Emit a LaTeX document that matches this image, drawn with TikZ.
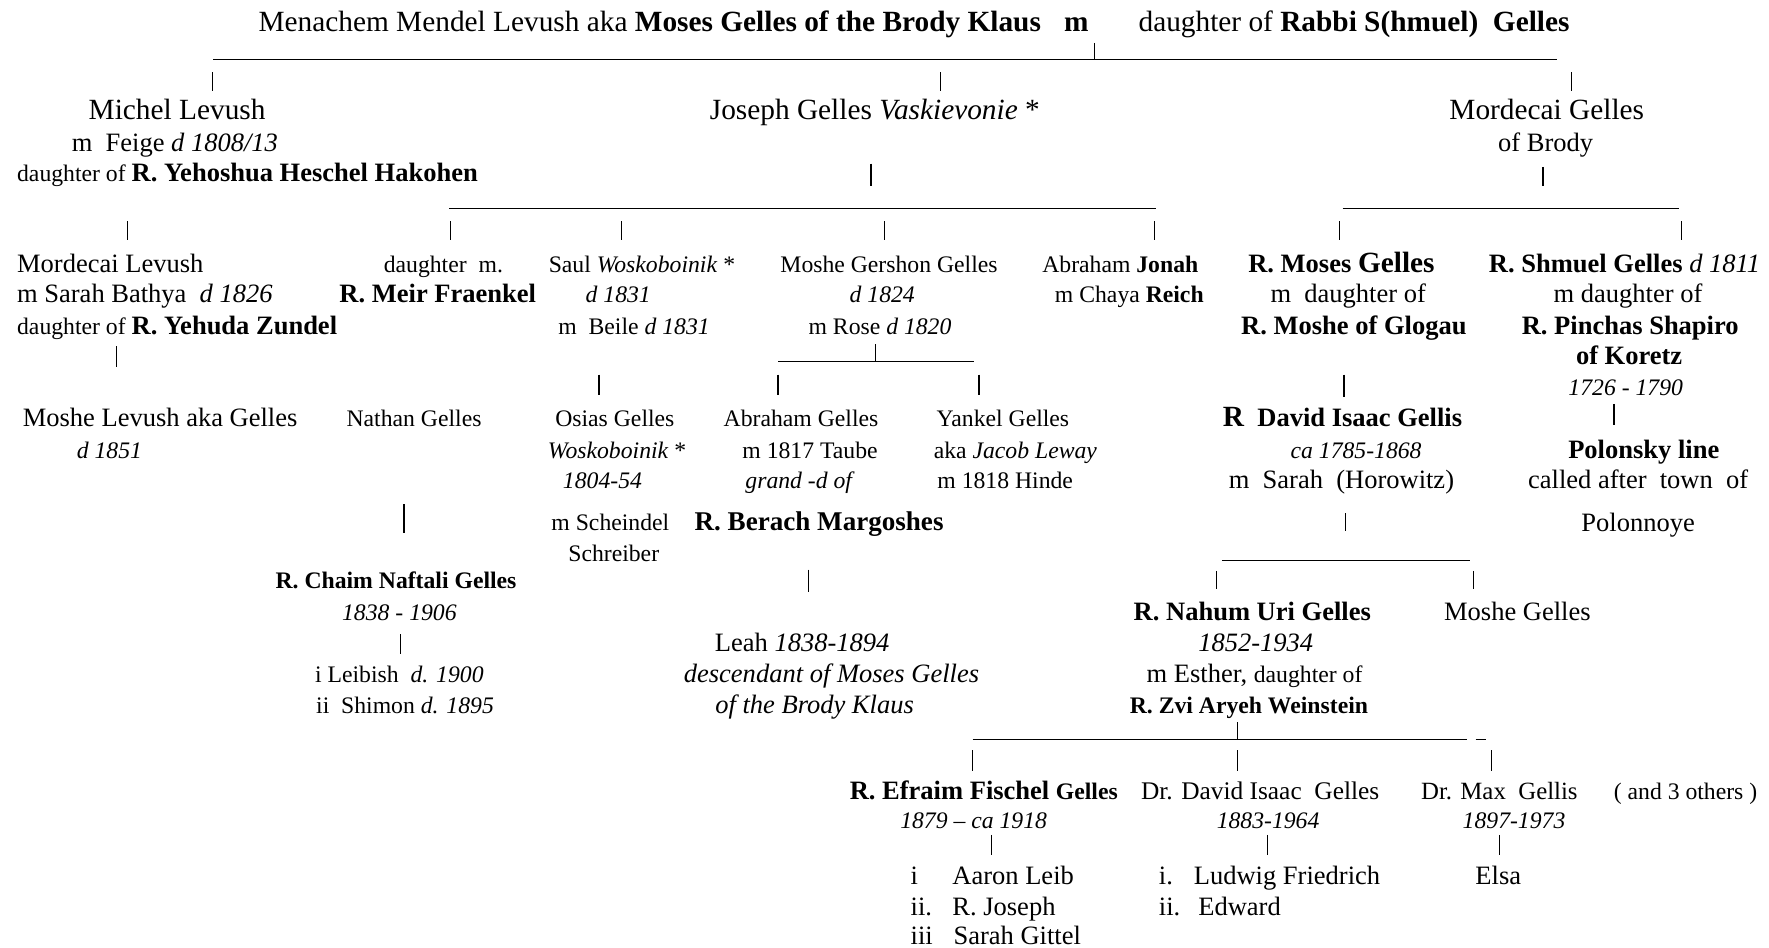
\documentclass[tikz,border=0pt]{standalone}
\usepackage{fontspec}
\setmainfont{Liberation Serif}
\newcommand\szL{\fontsize{26}{28}\selectfont}
\newcommand\szM{\fontsize{23.5}{26}\selectfont}
\newcommand\szS{\fontsize{21}{24}\selectfont}

\begin{document}
\begin{tikzpicture}[
            x=1pt, y=-1pt,
            every node/.style={inner sep=0pt, anchor=mid},
            tick/.style={line width=0.8pt},
            btick/.style={line width=1.8pt},
            bar/.style={line width=0.8pt},
            lg/.style={font=\szL},
            md/.style={font=\szM},
            sm/.style={font=\szS}
          ]
          \path[fill=white] (0,0) rectangle (1568,840);
          \useasboundingbox (0,0) rectangle (1568,840);

          % Underscore bars
          \foreach \n/\xa/\xb/\y in {b1/189/1380/53, b2/398/1025/185, b3/1190/1488/185,
              b4/690/863/320, b5/1083/1303/497, b6/862/1300/655, b7/1308/1317/655} {
            \coordinate (\n-l) at (\xa,\y);
            \coordinate (\n-r) at (\xb,\y);
            \draw[bar] (\n-l) -- (\n-r);
          }
          % Thin ticks
          \foreach \n/\x/\ya/\yb in {p1/970/38/53, t1/188/64/81, t2/834/64/81, t3/1393/64/81,
              t4/113/196/213, t5/399/196/213, t6/551/196/213, t7/784/196/213, t8/1023/196/213,
              t9/1187/196/213, t10/1490/196/213, t11/103/307/325, p2/776/305/320,
              t12/1193/455/471, t13/717/505/525, t14/1078/506/522, t15/1306/506/522,
              t16/355/562/580, p3/1097/640/655, t17/862/665/683, t18/1097/665/683,
              t19/1322/665/683, t20/879/740/758, t21/1123/740/758, t22/1329/740/758} {
            \coordinate (\n-t) at (\x,\ya);
            \coordinate (\n-b) at (\x,\yb);
            \draw[tick] (\n-t) -- (\n-b);
          }
          % Bold ticks
          \foreach \n/\x/\ya/\yb in {u1/772/145/165, u2/1368/148/165, u3/531/332/350,
              u4/690/332/350, u5/868/332/350, u6/1191/332/352, u7/1431/358/377, u8/358/447/472} {
            \coordinate (\n-t) at (\x,\ya);
            \coordinate (\n-b) at (\x,\yb);
            \draw[btick] (\n-t) -- (\n-b);
          }

          \begin{scope}[yshift=-6pt]
          % Top couple
          \node[lg, anchor=mid west] (menachem) at (229,20) {Menachem Mendel Levush aka \textbf{Moses Gelles of the Brody Klaus}};
          \node[font=\szL\bfseries] (marr) at (954,20) {m};
          \node[lg, anchor=mid west] (rabbi) at (1009,20) {daughter of \textbf{Rabbi S(hmuel)\ \ Gelles}};

          % Children
          \node[lg] (michel) at (157,98) {Michel Levush};
          \node[md] (feige) at (155,126) {m\ \ Feige \textit{d 1808/13}};
          \node[sm, anchor=mid west] (heschel) at (15,153) {daughter of \szM\bfseries R. Yehoshua Heschel Hakohen};
          \node[lg, anchor=mid west] (joseph) at (629,98) {Joseph Gelles \textit{Vaskievonie} *};
          \node[lg] (mordecaiG) at (1371,98) {Mordecai Gelles};
          \node[md] (brody) at (1370,126) {of Brody};

          % Grandchildren
          \node[md, anchor=mid west] (mordecaiL) at (15,233) {Mordecai Levush};
          \node[md, anchor=mid west] (sarah) at (15,260) {m Sarah Bathya\ \ \textit{d 1826}};
          \node[sm, anchor=mid west] (zundel) at (15,288) {daughter of \szM\bfseries R. Yehuda Zundel};
          \node[sm] (daum) at (393,233) {daughter\ \ m.};
          \node[font=\szM\bfseries] (fraenkel) at (388,260) {R. Meir Fraenkel};
          \node[sm] (saul) at (569,233) {Saul \textit{Woskoboinik} *};
          \node[font=\szS\itshape] (d1831) at (548,260) {d 1831};
          \node[sm] (beile) at (562,288) {m\ \ Beile \textit{d 1831}};
          \node[sm] (gershon) at (788,233) {Moshe Gershon Gelles};
          \node[font=\szS\itshape] (d1824) at (782,260) {d 1824};
          \node[sm] (rose) at (780,288) {m Rose \textit{d 1820}};
          \node[sm] (jonah) at (993,233) {Abraham \textbf{Jonah}};
          \node[sm] (reich) at (1001,260) {m Chaya \textbf{Reich}};
          \node[font=\szM\bfseries] (rmoses) at (1189,233) {R. Moses \szL Gelles};
          \node[md] (mdau1) at (1195,260) {m\ \ daughter of};
          \node[font=\szM\bfseries] (glogau) at (1200,288) {R. Moshe of Glogau};
          \node[md] (shmuel) at (1440,233) {\textbf{R. Shmuel Gelles} \textit{d 1811}};
          \node[md] (mdau2) at (1443,260) {m daughter of};
          \node[font=\szM\bfseries] (pinchas) at (1445,288) {R. Pinchas Shapiro};
          \node[font=\szM\bfseries] (koretz) at (1444,315) {of Koretz};
          \node[font=\szS\itshape] (y1726) at (1441,342) {1726 - 1790};

          % Great-grandchildren
          \node[md, anchor=mid west] (moshelev) at (20,370) {Moshe Levush aka Gelles};
          \node[font=\szS\itshape] (d1851) at (97,398) {d 1851};
          \node[sm] (nathan) at (367,370) {Nathan Gelles};
          \node[sm] (osias) at (545,370) {Osias Gelles};
          \node[sm] (wosko) at (547,398) {\textit{Woskoboinik} *};
          \node[font=\szS\itshape] (y1804) at (534,425) {1804-54};
          \node[sm] (scheindel) at (541,462) {m Scheindel};
          \node[sm] (schreiber) at (544,489) {Schreiber};
          \node[sm] (abraham) at (710,370) {Abraham Gelles};
          \node[sm] (taube) at (718,398) {m 1817 Taube};
          \node[font=\szS\itshape] (grand) at (708,425) {grand -d of};
          \node[font=\fontsize{24}{27}\selectfont\bfseries] (berach) at (726,462) {R. Berach Margoshes};
          \node[sm] (yankel) at (889,370) {Yankel Gelles};
          \node[sm] (leway) at (900,398) {aka \textit{Jacob Leway}};
          \node[sm] (hinde) at (891,425) {m 1818 Hinde};
          \node[font=\szM\bfseries] (david) at (1190,370) {\szL R\szM\ \ David Isaac Gellis};
          \node[font=\szS\itshape] (ca1785) at (1202,398) {ca 1785-1868};
          \node[md] (horowitz) at (1189,425) {m\ \ Sarah\ \ (Horowitz)};
          \node[font=\szM\bfseries] (polonsky) at (1457,398) {Polonsky line};
          \node[md] (called) at (1452,425) {called after\ \ town\ \ of};
          \node[md] (polonnoye) at (1452,463) {Polonnoye};

          % Next generation
          \node[font=\szS\bfseries] (chaim) at (351,513) {R. Chaim Naftali Gelles};
          \node[font=\szS\itshape] (y1838) at (354,542) {1838 - 1906};
          \node[sm] (leibish) at (354,597) {i Leibish\ \ \textit{d. 1900}};
          \node[sm] (shimon) at (359,624) {ii\ \ Shimon \textit{d. 1895}};
          \node[md] (leah) at (711,569) {Leah \textit{1838-1894}};
          \node[font=\szM\itshape] (descendant) at (737,597) {descendant of Moses Gelles};
          \node[font=\szM\itshape] (klaus) at (722,624) {of the Brody Klaus};
          \node[font=\szM\bfseries] (nahum) at (1110,542) {R. Nahum Uri Gelles};
          \node[font=\szM\itshape] (y1852) at (1113,569) {1852-1934};
          \node[md] (esther) at (1112,597) {m Esther, \szS daughter of};
          \node[font=\szS\bfseries] (zvi) at (1107,624) {R. Zvi Aryeh Weinstein};
          \node[md] (moshegelles) at (1345,542) {Moshe Gelles};

          % Youngest
          \node[font=\szM\bfseries] (efraim) at (872,700) {R. Efraim Fischel \szS Gelles};
          \node[font=\szS\itshape] (y1879) at (863,726) {1879 -- ca 1918};
          \node[font=\fontsize{22.5}{25}\selectfont] (drdavid) at (1117,700) {Dr. David Isaac\ \ Gelles};
          \node[font=\szS\itshape] (y1883) at (1124,726) {1883-1964};
          \node[font=\fontsize{22}{25}\selectfont] (drmax) at (1329,700) {Dr. Max\ \ Gellis};
          \node[font=\szS\itshape] (y1897) at (1342,726) {1897-1973};
          \node[sm] (others) at (1494,700) {( and 3 others )};
          \node[md, anchor=mid west] (aaron) at (807,776) {\makebox[37pt][l]{i}Aaron Leib};
          \node[md, anchor=mid west] (joseph2) at (807,803) {\makebox[37pt][l]{ii.}R. Joseph};
          \node[md, anchor=mid west] (gittel) at (807,829) {\makebox[38pt][l]{iii}Sarah Gittel};
          \node[md, anchor=mid west] (ludwig) at (1027,776) {\makebox[31pt][l]{i.}Ludwig Friedrich};
          \node[md, anchor=mid west] (edward) at (1027,803) {\makebox[35pt][l]{ii.}Edward};
          \node[md] (elsa) at (1328,776) {Elsa};
          \end{scope}

        \end{tikzpicture}
\end{document}
